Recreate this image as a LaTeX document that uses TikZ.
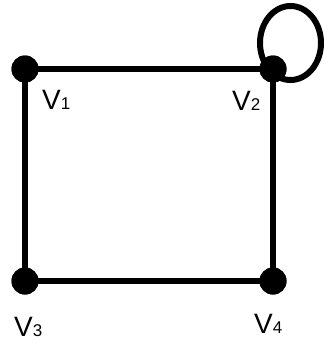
\documentclass[tikz,border=0pt]{standalone}
\usepackage{fontspec}
\setmainfont{Liberation Sans}
\begin{document}
\begin{tikzpicture}[x=1pt,y=-1pt,
  vertex/.style={circle,fill=black,inner sep=0pt,minimum size=27pt},
  edge/.style={line width=6pt},
  lbl/.style={inner sep=0pt,anchor=base west,font=\fontsize{28}{28}\selectfont}]
\useasboundingbox (0,0) rectangle (324,343);
\node[vertex] (v1) at (25,69) {};
\node[vertex] (v2) at (273,69) {};
\node[vertex] (v3) at (25,281) {};
\node[vertex] (v4) at (273,281) {};
\coordinate (lc) at (290.5,43);
\draw[edge] (v1.center) -- (v2.center);
\draw[edge] (v1.center) -- (v3.center);
\draw[edge] (v2.center) -- (v4.center);
\draw[edge] (v3.center) -- (v4.center);
\draw[edge] (lc) ellipse [x radius=30.5, y radius=37];
\node[vertex] at (v1) {};
\node[vertex] at (v2) {};
\node[vertex] at (v3) {};
\node[vertex] at (v4) {};
\newcommand{\sublbl}[1]{{\fontsize{17}{17}\selectfont #1}}
\node[lbl] (l1) at (42,109) {V\sublbl{1}};
\node[lbl] (l2) at (232,110) {V\sublbl{2}};
\node[lbl] (l3) at (14,336) {V\sublbl{3}};
\node[lbl] (l4) at (254,333) {V\sublbl{4}};
\end{tikzpicture}
\end{document}
